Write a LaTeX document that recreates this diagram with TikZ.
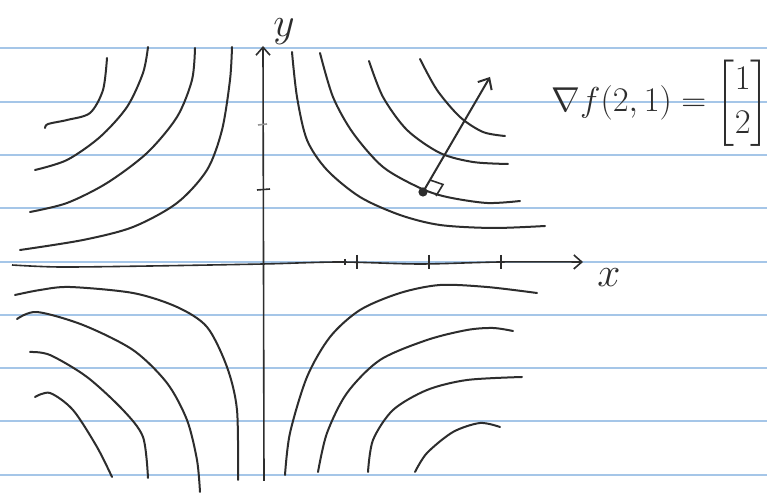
\documentclass[tikz,border=0pt]{standalone}
\usepackage{amsmath,amssymb}
\usepackage{tikz}
\usetikzlibrary{positioning,arrows.meta}

\definecolor{ruleblue}{RGB}{165,198,232}
\definecolor{pencil}{RGB}{45,45,45}

\begin{document}
\begin{tikzpicture}[
  x=0.5pt,y=-0.5pt,
  rule/.style={ruleblue,line width=0.6pt},
  curve/.style={pencil,line width=1pt,line cap=round},
  axis/.style={pencil,line width=0.8pt,-{Straight Barb[length=4pt,width=7pt]}},
  tick/.style={pencil,line width=0.8pt},
  lbl/.style={pencil,font=\fontsize{18}{22}\selectfont,inner sep=0pt},
  arr/.style={pencil,line width=1pt,-{Straight Barb[length=4.5pt,width=8pt]}}]
\useasboundingbox[fill=white] (0,0) rectangle (767,496);
% ruled paper
\foreach \yy in {48,102,155,208,262,315,368,421,475}
  \draw[rule] (0,\yy) -- (767,\yy);
% axes
\coordinate (ybot) at (264,481);
\coordinate (ytop) at (263,46);
\coordinate (xleft) at (12,265);
\coordinate (xright) at (583,262);
\draw[axis] (ybot) -- (ytop);
\draw[axis] plot[smooth] coordinates {(xleft) (60,267) (150,266) (263,264) (340,262) (420,264) (500,262) (xright)};
\node[lbl,font=\fontsize{20}{24}\selectfont] (ylab) at (284,32) {$y$};
\node[lbl,font=\fontsize{20}{24}\selectfont] (xlab) at (609,278) {$x$};
% ticks
\foreach \xx in {357,429,501}
  \draw[tick] (\xx,255) -- (\xx,269);
\draw[tick] (345,259) -- (345,265);
\draw[tick] (257,190) -- (270,189);
\draw[tick,pencil!50] (258,125) -- (267,124);
% level curves, upper right
\draw[curve] plot[smooth] coordinates {(292,52) (297,97) (307,140) (327,170) (360,197) (400,215) (440,225) (493,228) (545,226)};
\draw[curve] plot[smooth] coordinates {(320,53) (333,97) (353,133) (383,167) (420,188) (447,197) (487,203) (520,201)};
\draw[curve] plot[smooth] coordinates {(369,61) (383,97) (407,130) (440,153) (473,162) (508,164)};
\draw[curve] plot[smooth] coordinates {(420,59) (437,90) (460,117) (483,132) (505,136)};
% upper left
\draw[curve] plot[smooth] coordinates {(232,47) (230,80) (222,130) (207,170) (177,203) (133,227) (83,240) (20,250)};
\draw[curve] plot[smooth] coordinates {(195,48) (192,80) (177,117) (147,153) (107,183) (67,203) (30,212)};
\draw[curve] plot[smooth] coordinates {(148,47) (143,73) (127,107) (100,137) (67,160) (35,170)};
\draw[curve] plot[smooth] coordinates {(107,58) (103,90) (90,113) (67,120) (48,124) (45,128)};
% lower left
\draw[curve] plot[smooth] coordinates {(15,295) (40,290) (70,287) (133,293) (177,307) (207,327) (227,367) (237,410) (238,480)};
\draw[curve] plot[smooth] coordinates {(17,319) (37,312) (83,325) (133,350) (167,383) (187,420) (197,460) (200,492)};
\draw[curve] plot[smooth] coordinates {(30,352) (50,355) (87,377) (123,410) (143,437) (148,478)};
\draw[curve] plot[smooth] coordinates {(35,397) (50,393) (73,410) (97,447) (112,477)};
% lower right
\draw[curve] plot[smooth] coordinates {(285,475) (290,433) (307,377) (330,337) (360,310) (400,293) (440,285) (487,287) (537,293)};
\draw[curve] plot[smooth] coordinates {(318,472) (327,433) (347,393) (380,360) (427,340) (467,330) (493,328) (513,331)};
\draw[curve] plot[smooth] coordinates {(368,472) (373,440) (393,410) (427,390) (467,380) (522,377)};
\draw[curve] plot[smooth] coordinates {(415,472) (427,453) (453,432) (480,423) (500,427)};
% gradient at (2,1)
\coordinate (p) at (423,192);
\coordinate (tip) at (490,77);
\coordinate (ra) at (430,180);
\coordinate (rb) at (443,184.5);
\coordinate (rc) at (436,196);
\draw[arr] (p) -- (tip);
\draw[pencil,line width=0.8pt] (ra) -- (rb) -- (rc);
\fill[pencil] (p) circle (2.3pt);
\node[lbl,anchor=west] (grad) at (551,103) {$\nabla f(2,1)=\begin{bmatrix}1\\2\end{bmatrix}$};
\end{tikzpicture}
\end{document}
